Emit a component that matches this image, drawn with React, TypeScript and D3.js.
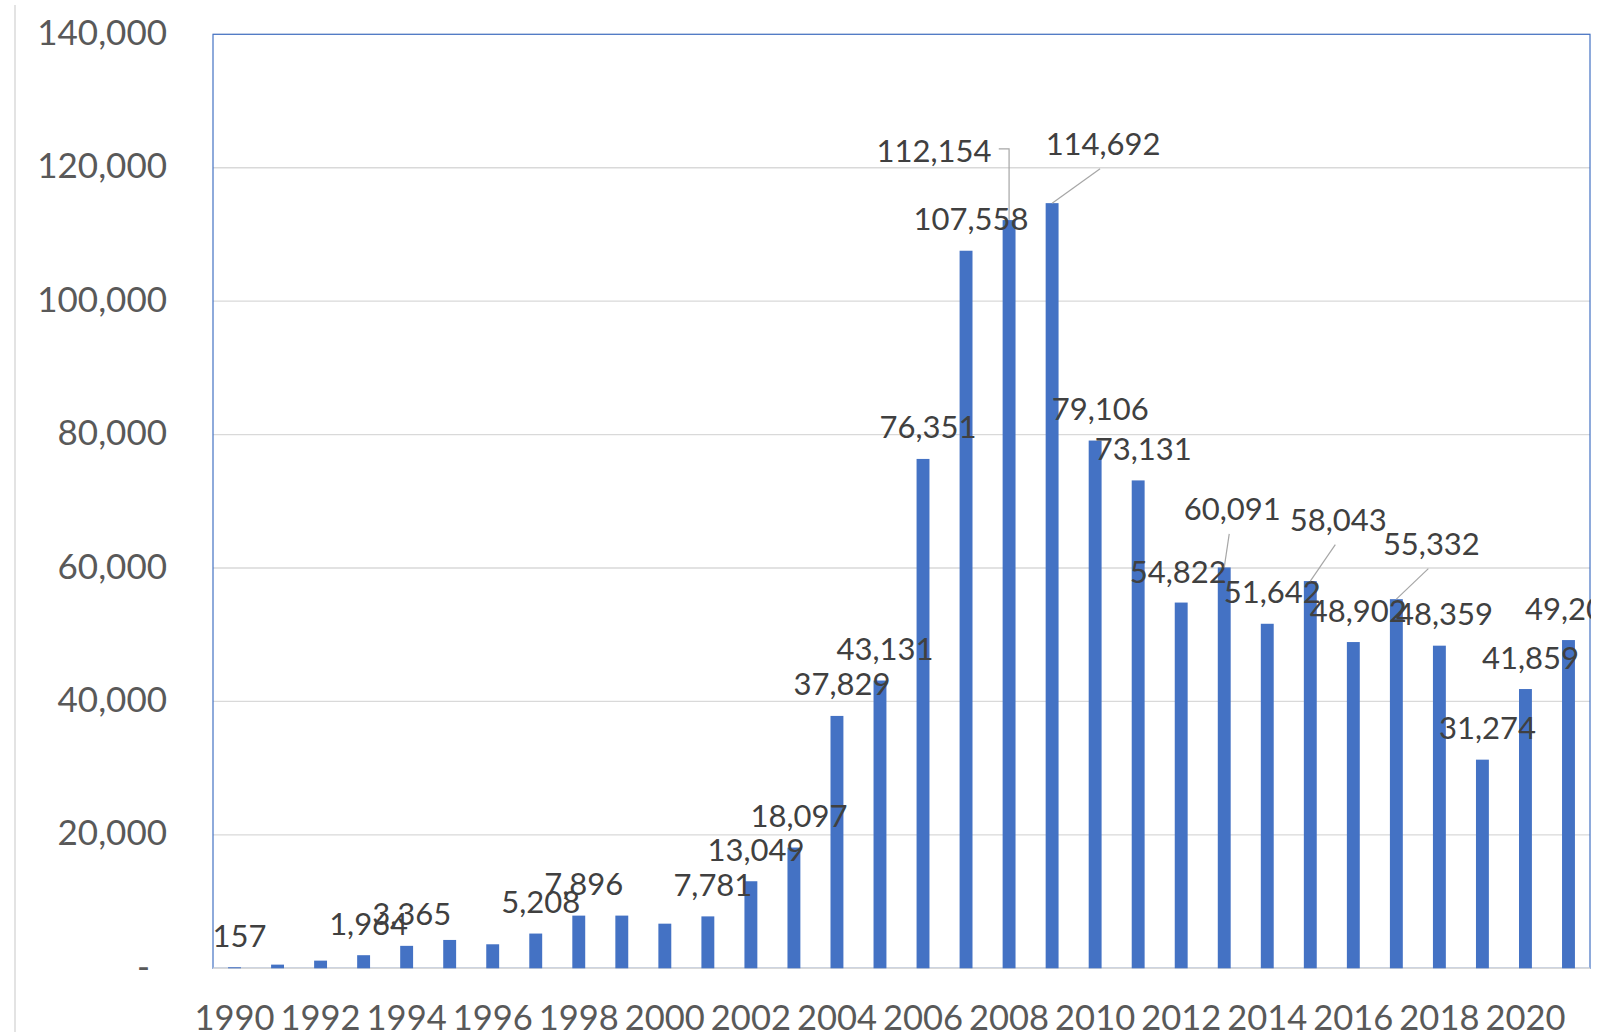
import React from "react";
import * as d3 from "d3";

// Annual totals, 1990–2021
const years: number[] = [
  1990, 1991, 1992, 1993, 1994, 1995, 1996, 1997, 1998, 1999, 2000,
  2001, 2002, 2003, 2004, 2005, 2006, 2007, 2008, 2009, 2010,
  2011, 2012, 2013, 2014, 2015, 2016, 2017, 2018, 2019, 2020, 2021,
];
const values: number[] = [
  157, 550, 1150, 1964, 3365, 4250, 3600, 5208, 7896, 7900, 6690,
  7781, 13049, 18097, 37829, 43131, 76351, 107558, 112154, 114692, 79106,
  73131, 54822, 60091, 51642, 58043, 48902, 55332, 48359, 31274, 41859, 49200,
];
// Years that carry a data label
const labeledYears: number[] = [
  1990, 1993, 1994, 1997, 1998, 2001, 2002, 2003, 2004, 2005, 2006, 2007,
  2008, 2009, 2010, 2011, 2012, 2013, 2014, 2015, 2016, 2017, 2018, 2019,
  2020, 2021,
];
const yTicks: number[] = [0, 20000, 40000, 60000, 80000, 100000, 120000, 140000];
const xTickYears: number[] = [
  1990, 1992, 1994, 1996, 1998, 2000, 2002, 2004, 2006, 2008, 2010,
  2012, 2014, 2016, 2018, 2020,
];

// Manually moved labels (pixel offsets from the default spot) and their leader style
const labelNudges: Record<number, [number, number, string]> = {
  2008: [-80, -38, "elbow"],
  2009: [46, -28, "straight"],
  2012: [-8, 1, "none"],
  2013: [3, -27, "straight"],
  2015: [23, -30, "straight"],
  2017: [30, -24, "straight"],
};

const W = 1602;
const H = 1036;
const plot = { left: 213, right: 1590, top: 34.3, bottom: 968.3 };
const FONT = "Lato, 'Open Sans', sans-serif";

export default function App() {
  const x = d3
    .scaleBand<number>()
    .domain(years)
    .range([plot.left, plot.right])
    .paddingInner(0.7)
    .paddingOuter(0.35);
  const y = d3.scaleLinear().domain([0, 140000]).range([plot.bottom, plot.top]);
  const fmt = d3.format(",");
  const bw = x.bandwidth();
  const cx = (yr: number) => (x(yr) as number) + bw / 2;
  const valueOf = (yr: number) => values[years.indexOf(yr)];

  return (
    <svg
      width={W}
      height={H}
      style={{ position: "absolute", left: 0, top: 0, background: "#fff" }}
      fontFamily={FONT}
    >
      <defs>
        <clipPath id="plotClip">
          <rect x={0} y={0} width={plot.right + 1} height={H} />
        </clipPath>
      </defs>
      <rect x={0} y={0} width={W} height={H} fill="#fff" />
      {/* faint frame edge on the left */}
      <line x1={15} x2={15} y1={5} y2={1032} stroke="#e3e3e3" strokeWidth={2} />

      {/* gridlines */}
      {yTicks.map((t) => (
        <line
          key={"g" + t}
          x1={plot.left}
          x2={plot.right}
          y1={y(t)}
          y2={y(t)}
          stroke="#d9d9d9"
          strokeWidth={1.3}
        />
      ))}

      {/* plot area border */}
      <rect
        x={plot.left}
        y={plot.top}
        width={plot.right - plot.left}
        height={plot.bottom - plot.top}
        fill="none"
        stroke="#4472C4"
        strokeWidth={1.2}
      />
      <line
        x1={plot.left}
        x2={plot.right}
        y1={plot.bottom}
        y2={plot.bottom}
        stroke="#d9d9d9"
        strokeWidth={1.5}
      />

      {/* y tick labels */}
      {yTicks.map((t) => (
        <text
          key={"yt" + t}
          x={t === 0 ? 150 : 167}
          y={y(t) + 10.5}
          textAnchor="end"
          fontSize={35}
          fill="#595959"
        >
          {t === 0 ? "-" : fmt(t)}
        </text>
      ))}

      {/* x tick labels */}
      {xTickYears.map((yr) => (
        <text
          key={"xt" + yr}
          x={cx(yr)}
          y={1030}
          textAnchor="middle"
          fontSize={34.5}
          fill="#595959"
        >
          {yr}
        </text>
      ))}

      {/* bars */}
      {years.map((yr, i) => (
        <rect
          key={"b" + yr}
          x={x(yr)}
          y={y(values[i])}
          width={bw}
          height={y(0) - y(values[i])}
          fill="#4472C4"
        />
      ))}

      {/* data labels and leader lines */}
      <g clipPath="url(#plotClip)">
        {labeledYears.map((yr) => {
          const v = valueOf(yr);
          const bx = cx(yr);
          const top = y(v);
          const nudge = labelNudges[yr];
          const lx = bx + 5 + (nudge ? nudge[0] : 0);
          const ly = top - 20.5 + (nudge ? nudge[1] : 0);
          const text = fmt(v);
          let leader: React.ReactNode = null;
          if (nudge && nudge[2] === "straight") {
            leader = (
              <line
                x1={lx - 3}
                y1={ly + 14}
                x2={bx}
                y2={top}
                stroke="#a6a6a6"
                strokeWidth={1.2}
              />
            );
          } else if (nudge && nudge[2] === "elbow") {
            const sx = lx + text.length * 8.1 + 8;
            const sy = ly - 12.7;
            leader = (
              <polyline
                points={`${sx},${sy} ${bx},${sy} ${bx},${top}`}
                fill="none"
                stroke="#a6a6a6"
                strokeWidth={1.2}
              />
            );
          }
          return (
            <g key={"l" + yr}>
              {leader}
              <text
                x={lx}
                y={ly}
                textAnchor="middle"
                fontSize={31}
                fill="#404040"
              >
                {text}
              </text>
            </g>
          );
        })}
      </g>
    </svg>
  );
}
